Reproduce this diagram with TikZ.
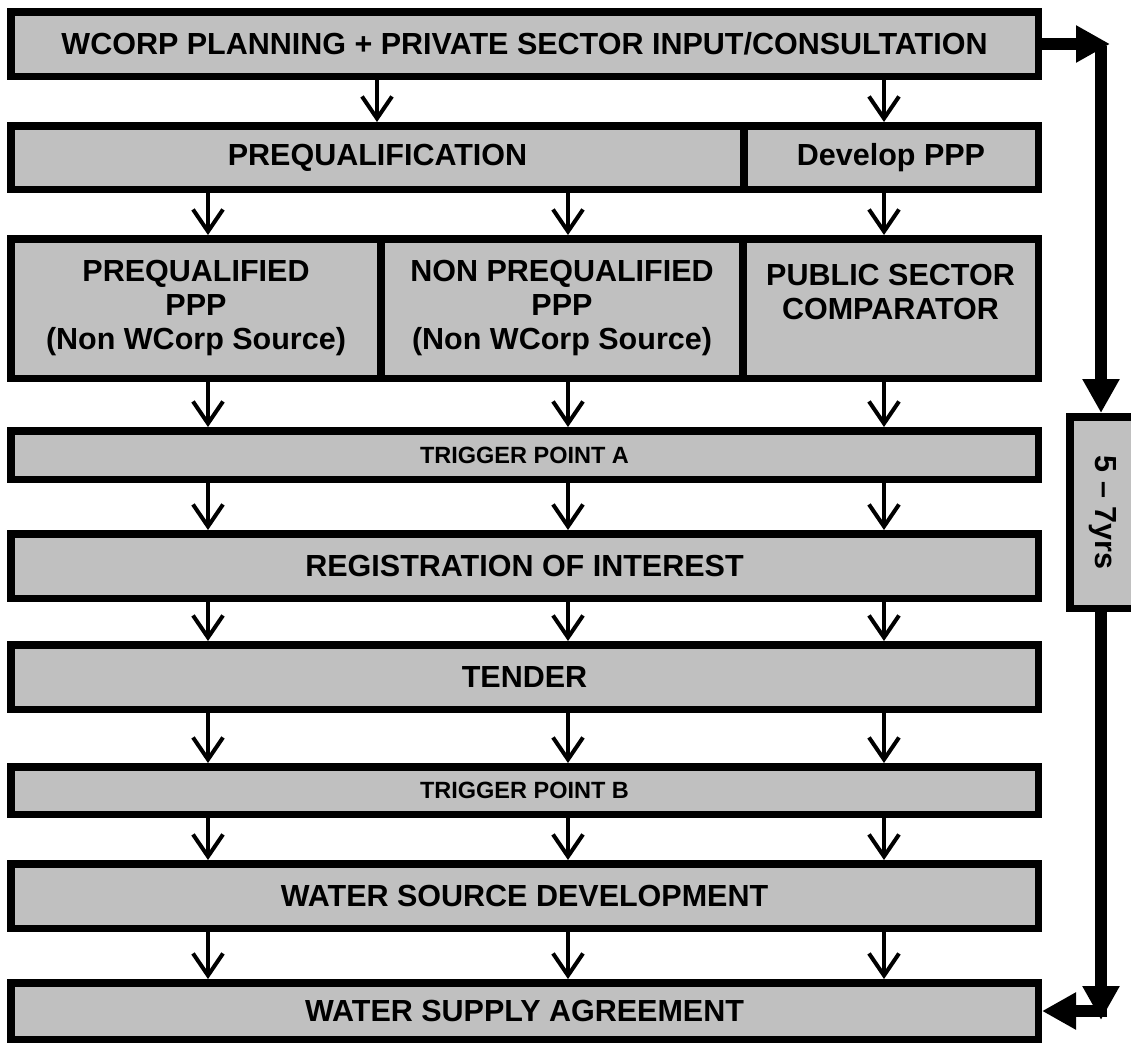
\documentclass[tikz,border=0pt]{standalone}
\usepackage{fontspec}
\setmainfont{Liberation Sans}
\usepackage{graphicx}
\usetikzlibrary{arrows.meta}
\definecolor{boxgray}{RGB}{192,192,192}
\begin{document}
\begin{tikzpicture}[x=1pt,y=-1pt,
  box/.style={draw=black, line width=7.5pt, fill=boxgray, inner sep=0pt, outer sep=3.75pt,
    align=center, font=\bfseries\fontsize{30.5}{34}\selectfont},
  small/.style={font=\bfseries\fontsize{23.5}{26}\selectfont},
  flow/.style={line width=4pt, -{Straight Barb[length=22pt,width=30pt]}},
  bigarrow/.style={line width=12pt, -{Triangle[length=34pt,width=35pt]}}]
\useasboundingbox (0,0) rectangle (1131,1044);

% boxes
\node[box, minimum width=1027.5pt, minimum height=64.5pt] (top) at (524.5,44) {WCORP PLANNING + PRIVATE SECTOR INPUT/CONSULTATION};
\node[box, minimum width=733.5pt, minimum height=63.5pt] (preq) at (377.5,157.5) {PREQUALIFICATION};
\node[box, minimum width=294.5pt, minimum height=63.5pt] (dev) at (891,157.5) {Develop PPP};
\node[box, minimum width=370.5pt, minimum height=139.5pt] (pq) at (196,308.5) {PREQUALIFIED\\PPP\\(Non WCorp Source)};
\node[box, minimum width=362.5pt, minimum height=139.5pt] (npq) at (562,308.5) {NON PREQUALIFIED\\PPP\\(Non WCorp Source)};
\node[box, minimum width=295.5pt, minimum height=139.5pt] (psc) at (890.5,308.5) {PUBLIC SECTOR\\COMPARATOR\\\mbox{}};
\node[box, small, minimum width=1027.5pt, minimum height=48.5pt] (tpa) at (524.5,455) {TRIGGER POINT A};
\node[box, minimum width=1027.5pt, minimum height=64.5pt] (roi) at (524.5,566) {REGISTRATION OF INTEREST};
\node[box, minimum width=1027.5pt, minimum height=64.5pt] (ten) at (524.5,677) {TENDER};
\node[box, small, minimum width=1027.5pt, minimum height=47.5pt] (tpb) at (524.5,790.5) {TRIGGER POINT B};
\node[box, minimum width=1027.5pt, minimum height=64.5pt] (wsd) at (524.5,896) {WATER SOURCE DEVELOPMENT};
\node[box, minimum width=1027.5pt, minimum height=56.5pt] (wsa) at (524.5,1011) {WATER SUPPLY AGREEMENT};
\node[box, minimum width=66.5pt, minimum height=191.5pt] (yrs) at (1103,512.5) {\rotatebox{-90}{5 – 7yrs}};

% columns
\coordinate (cA) at (377,0);
\coordinate (c1) at (208,0);
\coordinate (c2) at (568,0);
\coordinate (c3) at (884,0);

\draw[flow] (top.south -| cA) -- (preq.north -| cA);
\draw[flow] (top.south -| c3) -- (dev.north -| c3);
\draw[flow] (preq.south -| c1) -- (pq.north -| c1);
\draw[flow] (preq.south -| c2) -- (npq.north -| c2);
\draw[flow] (dev.south -| c3) -- (psc.north -| c3);
\draw[flow] (pq.south -| c1) -- (tpa.north -| c1);
\draw[flow] (npq.south -| c2) -- (tpa.north -| c2);
\draw[flow] (psc.south -| c3) -- (tpa.north -| c3);
\foreach \a/\b in {tpa/roi, roi/ten, ten/tpb, tpb/wsd, wsd/wsa}{
  \foreach \c in {c1,c2,c3}{
    \draw[flow] (\a.south -| \c) -- (\b.north -| \c);
  }
}

% side loop
\coordinate (r0) at (1110,44);
\coordinate (r1) at (1101,46);
\coordinate (r2) at (1101,1020);
\coordinate (r3) at (1107,1011);
\draw[bigarrow] (top.east) -- (r0);
\draw[bigarrow] (r1) -- (r1 |- yrs.north);
\draw[bigarrow] (yrs.south -| r1) -- (r2);
\draw[bigarrow] (r3) -- (wsa.east);
\end{tikzpicture}
\end{document}
